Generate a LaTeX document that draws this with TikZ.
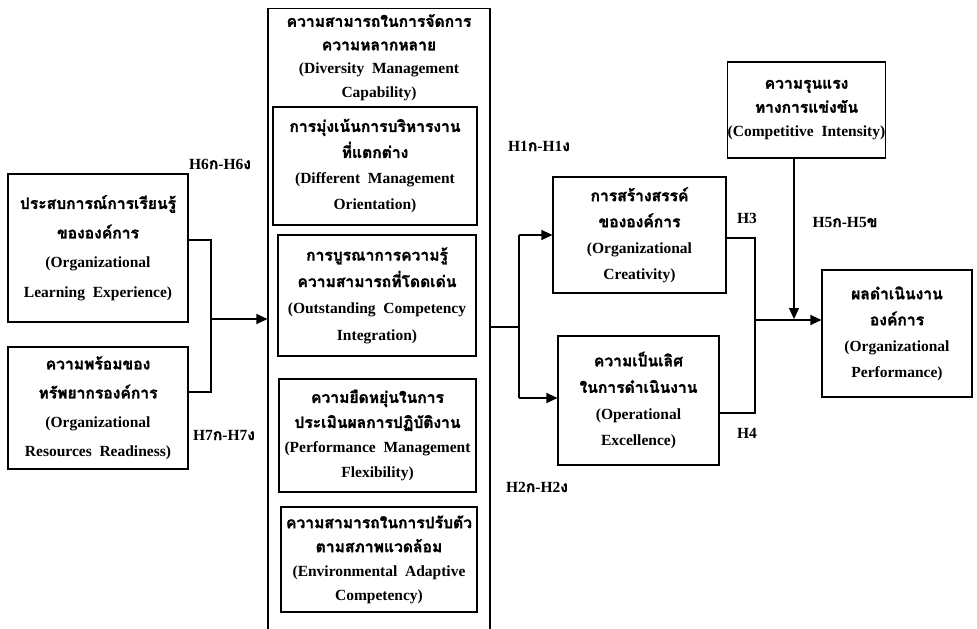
\documentclass[tikz,border=0pt]{standalone}
\usepackage{fontspec}
\setmainfont{Liberation Serif}
\newfontfamily\thai[Script=Thai, FakeBold=1.6, Scale=1.01]{Loma}
\usetikzlibrary{arrows.meta}
\tikzset{
  every picture/.style={x=1pt,y=-1pt},
  box/.style={draw, line width=1.1pt, align=center, inner sep=0pt, font=\bfseries\fontsize{15.5}{26}\selectfont},
  lbl/.style={inner sep=0pt, font=\bfseries\fontsize{15.5}{18}\selectfont},
  conn/.style={line width=1.1pt},
  arr/.style={line width=1.1pt, -{Triangle[length=11pt,width=10pt]}}
}
\newcommand{\tht}[1]{{\thai #1}}
\begin{document}
\begin{tikzpicture}
\useasboundingbox (0,0) rectangle (977,629);
% left boxes
\node[box, minimum width=180pt, minimum height=148pt, font=\bfseries\fontsize{15.5}{29.5}\selectfont] (L1) at (98,248)
  {\tht{ประสบการณ์การเรียนรู้}\\ \tht{ขององค์การ}\\ (Organizational\\ Learning\ \ Experience)};
\node[box, minimum width=180pt, minimum height=122pt, font=\bfseries\fontsize{15.5}{29}\selectfont] (L2) at (98,408)
  {\tht{ความพร้อมของ}\\ \tht{ทรัพยากรองค์การ}\\ (Organizational\\ Resources\ \ Readiness)};
% big central box
\node[box, minimum width=222pt, minimum height=640pt, anchor=north] (div) at (379,8) {};
\node[lbl, align=center, anchor=north, font=\bfseries\fontsize{15.5}{23.5}\selectfont] (divt) at (379,14)
  {\tht{ความสามารถในการจัดการ}\\ \tht{ความหลากหลาย}\\ (Diversity\ \ Management\\ Capability)};
\node[box, minimum width=204pt, minimum height=118pt] (A) at (375,166)
  {\tht{การมุ่งเน้นการบริหารงาน}\\ \tht{ที่แตกต่าง}\\ (Different\ \ Management\\ Orientation)};
\node[box, minimum width=198pt, minimum height=121pt, font=\bfseries\fontsize{15.5}{26.5}\selectfont] (B) at (377,295.5)
  {\tht{การบูรณาการความรู้}\\ \tht{ความสามารถที่โดดเด่น}\\ (Outstanding\ \ Competency\\ Integration)};
\node[box, minimum width=197pt, minimum height=113pt, font=\bfseries\fontsize{15.5}{25}\selectfont] (C) at (377.5,435.5)
  {\tht{ความยืดหยุ่นในการ}\\ \tht{ประเมินผลการปฏิบัติงาน}\\ (Performance\ \ Management\\ Flexibility)};
\node[box, minimum width=196pt, minimum height=105pt, font=\bfseries\fontsize{15.5}{24}\selectfont] (D) at (379,559.5)
  {\tht{ความสามารถในการปรับตัว}\\ \tht{ตามสภาพแวดล้อม}\\ (Environmental\ \ Adaptive\\ Competency)};
% right side
\node[box, minimum width=173pt, minimum height=116pt] (cre) at (639.5,235)
  {\tht{การสร้างสรรค์}\\ \tht{ขององค์การ}\\ (Organizational\\ Creativity)};
\node[box, minimum width=161pt, minimum height=129pt, font=\bfseries\fontsize{15.5}{26.5}\selectfont] (oe) at (638.5,400.5)
  {\tht{ความเป็นเลิศ}\\ \tht{ในการดำเนินงาน}\\ (Operational\\ Excellence)};
\node[box, minimum width=157pt, minimum height=96pt, font=\bfseries\fontsize{15.5}{24}\selectfont] (comp) at (806.5,110)
  {\tht{ความรุนแรง}\\ \tht{ทางการแข่งขัน}\\ (Competitive\ \ Intensity)};
\node[box, minimum width=150pt, minimum height=127pt] (perf) at (897,333.5)
  {\tht{ผลดำเนินงาน}\\ \tht{องค์การ}\\ (Organizational\\ Performance)};
% labels
\node[lbl] (h6) at (220,164) {H6\tht{ก}-H6\tht{ง}};
\node[lbl] (h7) at (224,435) {H7\tht{ก}-H7\tht{ง}};
\node[lbl] (h1) at (539,146) {H1\tht{ก}-H1\tht{ง}};
\node[lbl] (h2) at (537,487) {H2\tht{ก}-H2\tht{ง}};
\node[lbl] (h3) at (747,218) {H3};
\node[lbl] (h4) at (747,433) {H4};
\node[lbl] (h5) at (845,222) {H5\tht{ก}-H5\tht{ข}};
% connector points
\coordinate (j1) at (211,240);
\coordinate (j2) at (211,392);
\coordinate (j3) at (211,319);
\coordinate (k1) at (519,327);
\coordinate (k2) at (519,235);
\coordinate (k3) at (519,398);
\coordinate (m1) at (755,238);
\coordinate (m2) at (755,413);
\coordinate (m3) at (755,320);
\coordinate (c1) at (794,319);
% connectors
\draw[conn] (L1.east |- j1) -- (j1) -- (j2) -- (L2.east |- j2);
\draw[arr] (j3) -- (div.west |- j3);
\draw[conn] (div.east |- k1) -- (k1);
\draw[conn] (k2) -- (k3);
\draw[arr] (k2) -- (cre.west |- k2);
\draw[arr] (k3) -- (oe.west |- k3);
\draw[conn] (cre.east |- m1) -- (m1) -- (m2) -- (oe.east |- m2);
\draw[arr] (m3) -- (perf.west |- m3);
\draw[arr] (comp.south -| c1) -- (c1);
\end{tikzpicture}
\end{document}
